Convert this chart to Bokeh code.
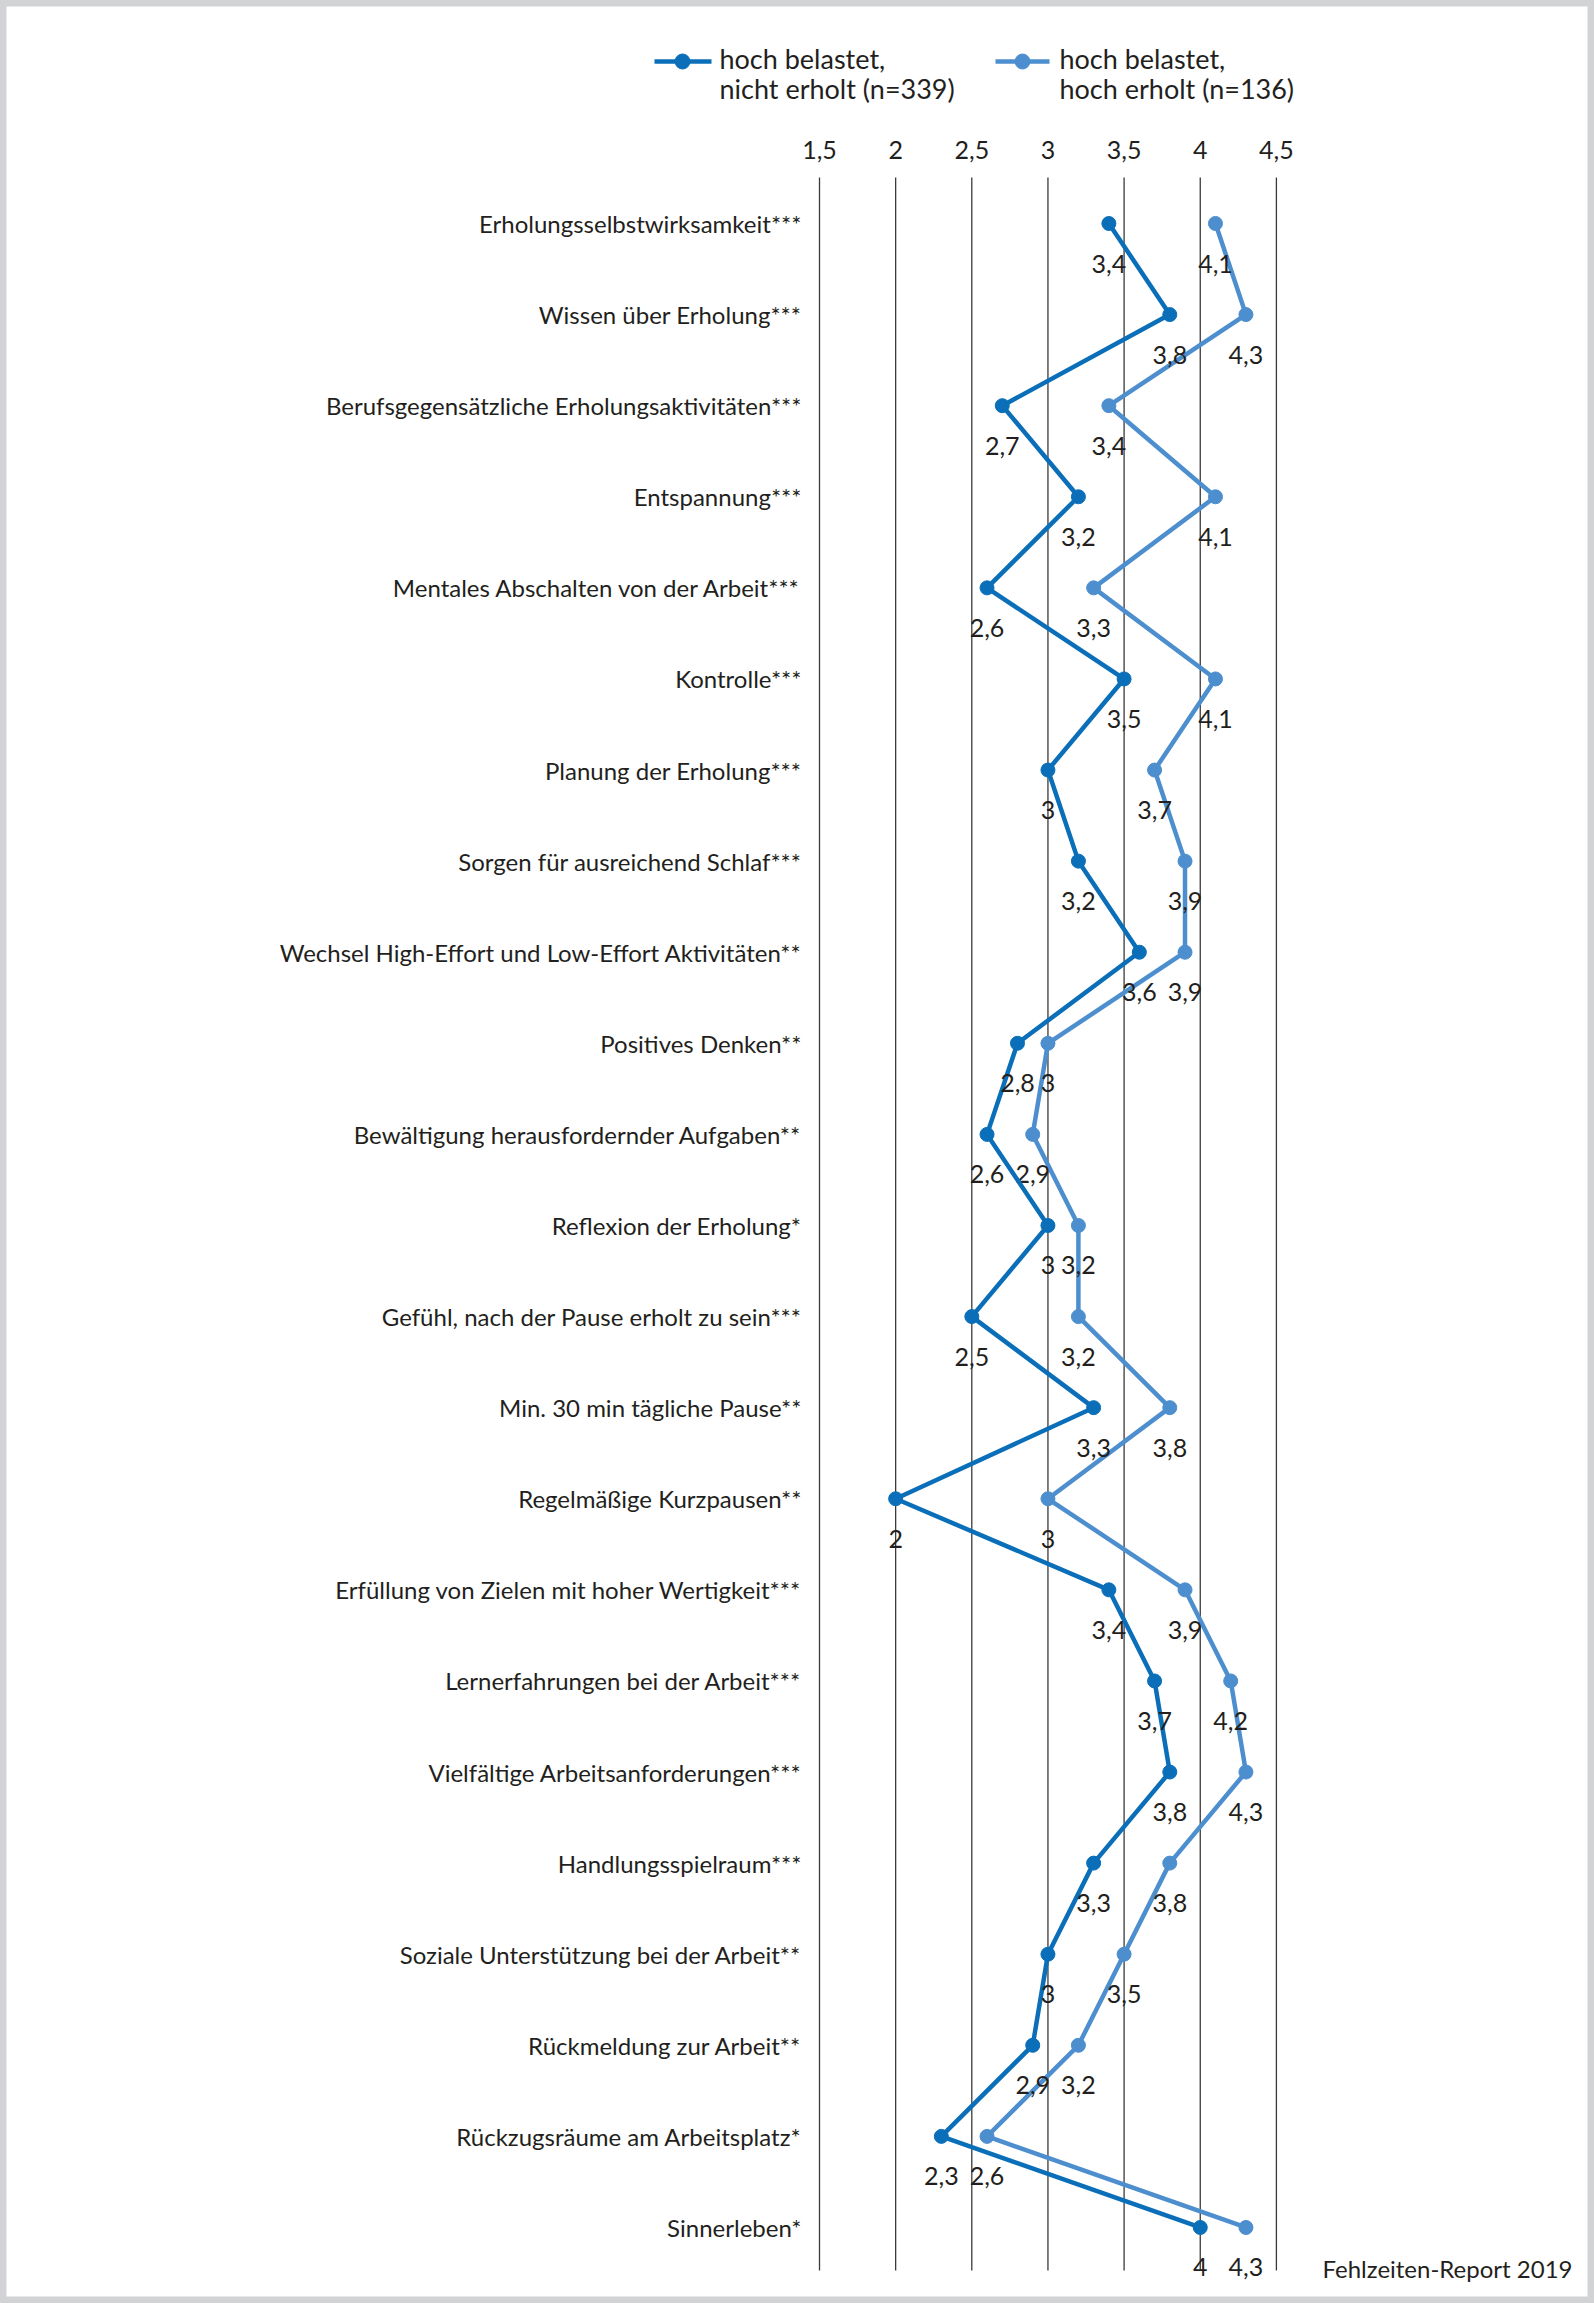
from bokeh.plotting import figure
from bokeh.models import Range1d
from bokeh.embed import file_html
from bokeh.resources import INLINE
from bokeh.core.properties import value

# ---------------- data ----------------
categories = [
    "Erholungsselbstwirksamkeit***",
    "Wissen über Erholung***",
    "Berufsgegensätzliche Erholungsaktivitäten***",
    "Entspannung***",
    "Mentales Abschalten von der Arbeit***",
    "Kontrolle***",
    "Planung der Erholung***",
    "Sorgen für ausreichend Schlaf***",
    "Wechsel High-Effort und Low-Effort Aktivitäten**",
    "Positives Denken**",
    "Bewältigung herausfordernder Aufgaben**",
    "Reflexion der Erholung*",
    "Gefühl, nach der Pause erholt zu sein***",
    "Min. 30 min tägliche Pause**",
    "Regelmäßige Kurzpausen**",
    "Erfüllung von Zielen mit hoher Wertigkeit***",
    "Lernerfahrungen bei der Arbeit***",
    "Vielfältige Arbeitsanforderungen***",
    "Handlungsspielraum***",
    "Soziale Unterstützung bei der Arbeit**",
    "Rückmeldung zur Arbeit**",
    "Rückzugsräume am Arbeitsplatz*",
    "Sinnerleben*",
]
nicht_erholt = [3.4, 3.8, 2.7, 3.2, 2.6, 3.5, 3.0, 3.2, 3.6, 2.8, 2.6, 3.0, 2.5, 3.3,
                2.0, 3.4, 3.7, 3.8, 3.3, 3.0, 2.9, 2.3, 4.0]
hoch_erholt = [4.1, 4.3, 3.4, 4.1, 3.3, 4.1, 3.7, 3.9, 3.9, 3.0, 2.9, 3.2, 3.2, 3.8,
               3.0, 3.9, 4.2, 4.3, 3.8, 3.5, 3.2, 2.6, 4.3]
tick_values = [1.5, 2.0, 2.5, 3.0, 3.5, 4.0, 4.5]
tick_labels = ["1,5", "2", "2,5", "3", "3,5", "4", "4,5"]
series_names = ["hoch belastet,\nnicht erholt (n=339)", "hoch belastet,\nhoch erholt (n=136)"]
source_note = "Fehlzeiten-Report 2019"

# ---------------- layout / style ----------------
W, H = 1594, 2303
PX_PER_UNIT = 152.3
PX_PER_ROW = 91.09
X0_PX = 819      # canvas px of first tick
ROW0_PX = 223    # canvas px of first row

DARK = "#0a6fb8"
LIGHT = "#4d8fce"
TEXT = "#231f20"
GRID = "#3a3a3a"
FONT = value("Lato")

x_start = tick_values[0] - X0_PX / PX_PER_UNIT
x_end = x_start + W / PX_PER_UNIT
y_top = -ROW0_PX / PX_PER_ROW
y_bottom = y_top + H / PX_PER_ROW


def dx(px):
    return x_start + px / PX_PER_UNIT


def dy(px):
    return y_top + px / PX_PER_ROW


n = len(categories)
rows = list(range(n))

p = figure(width=W, height=H, output_backend="svg", toolbar_location=None,
           x_range=Range1d(x_start, x_end), y_range=Range1d(y_bottom, y_top),
           x_axis_location=None, y_axis_location=None, min_border=0,
           background_fill_color="white", border_fill_color="white")
p.grid.visible = False
p.outline_line_color = "#d2d3d5"
p.outline_line_width = 12

# vertical grid lines at ticks
p.segment(x0=tick_values, x1=tick_values, y0=dy(177), y1=dy(2270),
          line_color=GRID, line_width=1.3)

# tick labels (top)
p.text(x=tick_values, y=dy(149), text=tick_labels, text_font=FONT,
       text_font_size="25px", text_color=TEXT, text_align="center",
       text_baseline="middle")

# category labels
p.text(x=tick_values[0], y=rows, text=categories, x_offset=-18, text_font=FONT,
       text_font_size="24px", text_color=TEXT, text_align="right",
       text_baseline="middle")

# series
for vals, col in ((hoch_erholt, LIGHT), (nicht_erholt, DARK)):
    p.line(x=vals, y=rows, line_color=col, line_width=4.5)
    p.scatter(x=vals, y=rows, size=14, fill_color=col, line_color=col)
    p.text(x=vals, y=rows, text=[f"{v:g}".replace(".", ",") for v in vals],
           y_offset=40, text_font=FONT, text_font_size="25px", text_color=TEXT,
           text_align="center", text_baseline="middle")

# legend
for name, col, (k0, k1, km, tx) in zip(series_names, (DARK, LIGHT),
                                        ((654, 711, 682, 719), (995, 1049, 1022, 1059))):
    p.segment(x0=dx(k0), x1=dx(k1), y0=dy(61), y1=dy(61), line_color=col, line_width=4.5)
    p.scatter(x=dx(km), y=dy(61), size=15, fill_color=col, line_color=col)
    p.text(x=dx(tx), y=dy(73), text=[name], text_font=FONT, text_font_size="27px",
           text_color=TEXT, text_align="left", text_baseline="middle",
           text_line_height=0.88)

# source note
p.text(x=dx(1572), y=dy(2268), text=[source_note], text_font=FONT,
       text_font_size="24px", text_color=TEXT, text_align="right",
       text_baseline="middle")

open("out.html", "w").write(file_html(p, INLINE))
